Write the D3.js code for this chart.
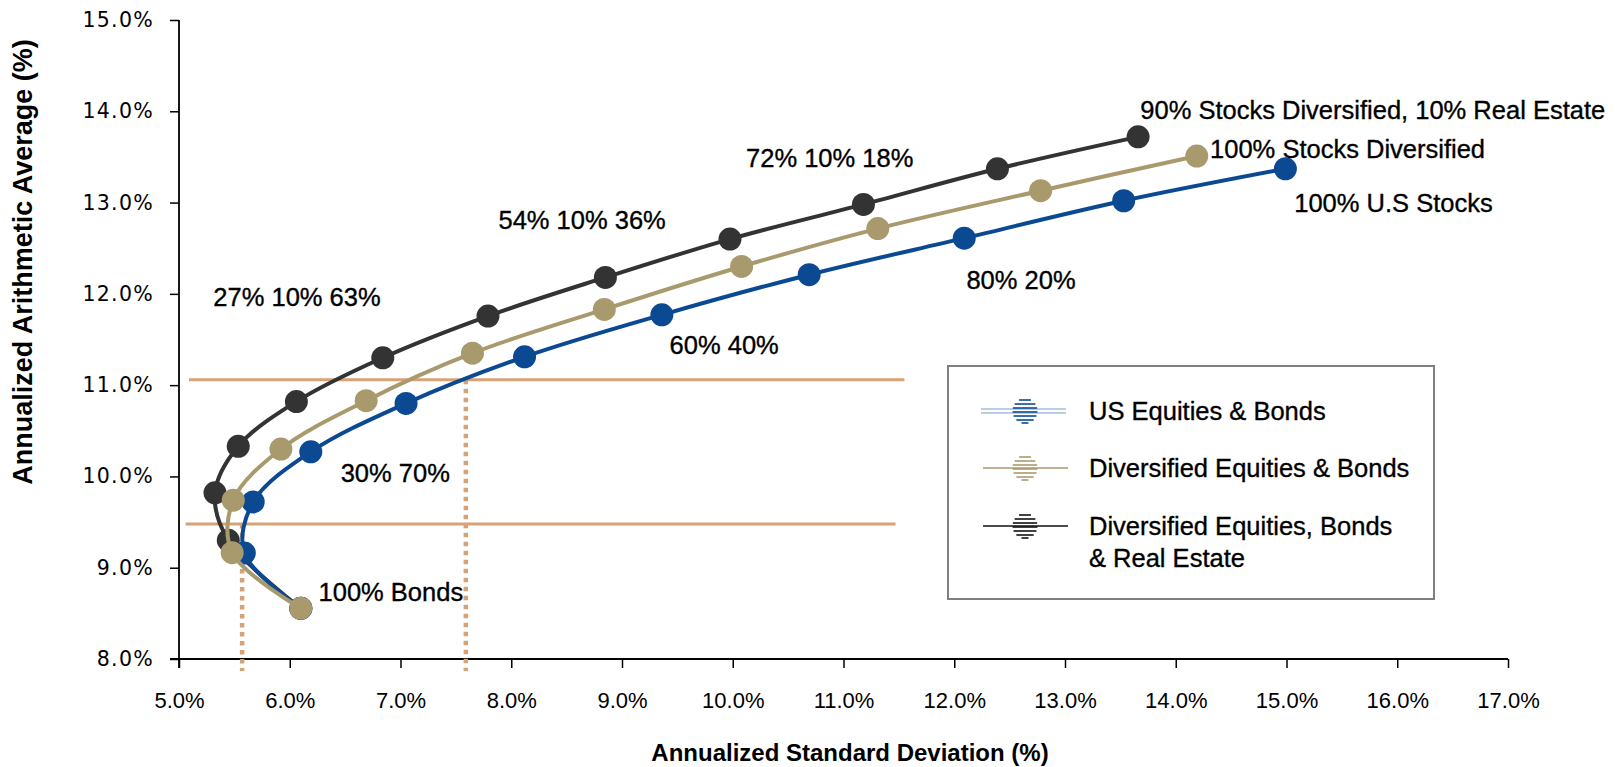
<!DOCTYPE html>
<html>
<head>
<meta charset="utf-8">
<script src="https://cdn.jsdelivr.net/npm/d3@7"></script>
<style>
  html, body { margin: 0; padding: 0; background: #fff; }
  svg { display: block; }
  .lbl { font-family: "Liberation Sans", Arial, sans-serif; font-size: 25.5px; fill: #000; stroke: #000; stroke-width: 0.35px; }
  .ytick text { font-family: "DejaVu Sans", Verdana, sans-serif; font-size: 20.5px; letter-spacing: 1.3px; }
  .xtick text { font-family: "Liberation Sans Narrow", "Liberation Sans", sans-serif; font-size: 22px; }
  .title { font-family: "Liberation Sans Narrow", "Liberation Sans", sans-serif; font-size: 24px; font-weight: bold; }
</style>
</head>
<body>
<svg id="chart" width="1615" height="767"></svg>
<script>
// Risk / return of portfolio mixes (annualized std. dev. %, arithmetic average %)
const usStd   = [6.1, 5.59, 5.67, 6.19, 7.05, 8.12, 9.36, 10.69, 12.09, 13.53, 14.99];
const usRet   = [8.555, 9.16, 9.72, 10.27, 10.80, 11.31, 11.77, 12.21, 12.61, 13.02, 13.37];

const divStd  = [6.1, 5.48, 5.49, 5.92, 6.69, 7.65, 8.84, 10.08, 11.31, 12.78, 14.19];
const divRet  = [8.555, 9.165, 9.74, 10.30, 10.83, 11.35, 11.83, 12.30, 12.715, 13.13, 13.51];

const reStd   = [6.1, 5.445, 5.325, 5.535, 6.06, 6.84, 7.79, 8.85, 9.975, 11.18, 12.39, 13.66];
const reRet   = [8.555, 9.30, 9.82, 10.33, 10.82, 11.30, 11.757, 12.18, 12.60, 12.98, 13.37, 13.72];

const seriesNames = ["US Equities & Bonds", "Diversified Equities & Bonds", "Diversified Equities, Bonds\n& Real Estate"];

const xTicks = [5, 6, 7, 8, 9, 10, 11, 12, 13, 14, 15, 16, 17];
const yTicks = [8, 9, 10, 11, 12, 13, 14, 15];

// Reference levels of return and the risk needed to reach them
const refReturns = [11.06, 9.48];
const refStdStart = [5.09, 5.06];
const refStdEnd = [11.55, 11.47];
const refRisk = [7.59, 5.57];

// Allocation annotations: text, std. dev., return
const noteText = ["27% 10% 63%", "54% 10% 36%", "72% 10% 18%", "90% Stocks Diversified, 10% Real Estate",
                  "100% Stocks Diversified", "100% U.S Stocks", "80% 20%", "60% 40%", "30% 70%", "100% Bonds"];
const noteStd  = [5.31, 7.885, 10.12, 13.68, 14.31, 15.07, 12.11, 9.43, 6.46, 6.26];
const noteRet  = [11.97, 12.81, 13.49, 14.02, 13.585, 13.00, 12.15, 11.44, 10.04, 8.74];

const svg = d3.select("#chart");
const x = d3.scaleLinear().domain([5, 17]).range([179, 1508]);
const y = d3.scaleLinear().domain([8, 15]).range([659, 20]);

const colBlue = "#0b4a92", colTan = "#a99a6e", colDark = "#333333", colRef = "#d6a276";

// Axes
const xAxis = svg.append("g").attr("class", "xtick").attr("transform", `translate(0,${y(8)})`)
  .call(d3.axisBottom(x).tickValues(xTicks).tickFormat(d => d.toFixed(1) + "%").tickSize(9).tickPadding(24));
xAxis.select(".domain").attr("stroke", "#000").attr("stroke-width", 2.2).attr("d", `M${x(5) - 9},0H${x(17)}`);
xAxis.selectAll(".tick line").attr("stroke-width", 1.5);
xAxis.selectAll("text").attr("fill", "#000");

const yAxis = svg.append("g").attr("class", "ytick").attr("transform", `translate(${x(5)},0)`)
  .call(d3.axisLeft(y).tickValues(yTicks).tickFormat(d => d.toFixed(1) + "%").tickSize(9).tickPadding(16));
yAxis.select(".domain").attr("stroke", "#000").attr("stroke-width", 1.8).attr("d", `M0,${y(15)}V${y(8) + 9}`);
yAxis.selectAll(".tick line").attr("stroke-width", 1.5);
yAxis.selectAll("text").attr("fill", "#000");

// Axis titles
svg.append("text").attr("class", "title").attr("x", 850).attr("y", 761).attr("text-anchor", "middle")
  .text("Annualized Standard Deviation (%)");
svg.append("text").attr("class", "title").style("font-size", "27px")
  .attr("transform", `translate(32,${262}) rotate(-90)`)
  .attr("text-anchor", "middle").text("Annualized Arithmetic Average (%)");

// Reference lines
refReturns.forEach((r, i) => {
  svg.append("line").attr("x1", x(refStdStart[i])).attr("x2", x(refStdEnd[i]))
    .attr("y1", y(r)).attr("y2", y(r)).attr("stroke", colRef).attr("stroke-width", 3);
  svg.append("line").attr("x1", x(refRisk[i])).attr("x2", x(refRisk[i]))
    .attr("y1", y(r)).attr("y2", y(8) + 12).attr("stroke", colRef).attr("stroke-width", 4.5)
    .attr("stroke-dasharray", "4.5 4.5");
});

// Frontier curves
const line = d3.line().x(d => x(d[0])).y(d => y(d[1])).curve(d3.curveCatmullRom.alpha(0.5));
const series = [
  { std: reStd, ret: reRet, color: colDark },
  { std: usStd, ret: usRet, color: colBlue },
  { std: divStd, ret: divRet, color: colTan }
];
series.forEach(s => {
  const pts = s.std.map((v, i) => [v, s.ret[i]]);
  svg.append("path").datum(pts).attr("d", line).attr("fill", "none")
    .attr("stroke", s.color).attr("stroke-width", 4);
  svg.append("g").selectAll("circle").data(pts).join("circle")
    .attr("cx", d => x(d[0])).attr("cy", d => y(d[1])).attr("r", 11.5).attr("fill", s.color);
});

// Annotations
svg.append("g").selectAll("text").data(noteText).join("text")
  .attr("class", "lbl")
  .attr("x", (d, i) => x(noteStd[i])).attr("y", (d, i) => y(noteRet[i])).attr("dy", "0.36em")
  .text(d => d);

// Legend
const lg = svg.append("g");
lg.append("rect").attr("x", 948).attr("y", 366).attr("width", 486).attr("height", 233)
  .attr("fill", "#fff").attr("stroke", "#7f7f7f").attr("stroke-width", 2);
const legendRows = [
  { y: 411, color: colBlue, lineColor: "#7d9bc8", doubled: true },
  { y: 468, color: colTan, lineColor: colTan, doubled: false },
  { y: 526, color: "#111", lineColor: "#111", doubled: false }
];
legendRows.forEach((r, i) => {
  const g = lg.append("g");
  if (r.doubled) {
    [-2, 2].forEach(o => g.append("line").attr("x1", 981).attr("x2", 1066)
      .attr("y1", r.y + o).attr("y2", r.y + o).attr("stroke", r.lineColor).attr("stroke-width", 1.2));
  } else {
    g.append("line").attr("x1", 983).attr("x2", 1068).attr("y1", r.y).attr("y2", r.y)
      .attr("stroke", r.lineColor).attr("stroke-width", 1.5);
  }
  const cx = 1025, rad = 12.5;
  [-11, -7, -3, 1, 5, 9, 12].forEach(dy => {
    const hw = Math.sqrt(Math.max(rad * rad - dy * dy, 4));
    g.append("line").attr("x1", cx - hw).attr("x2", cx + hw).attr("y1", r.y + dy).attr("y2", r.y + dy)
      .attr("stroke", r.color).attr("stroke-width", 1.6);
  });
  const lines = seriesNames[i].split("\n");
  const t = lg.append("text").attr("class", "lbl").attr("x", 1089).attr("y", r.y);
  lines.forEach((ln, k) => t.append("tspan").attr("x", 1089).attr("dy", k === 0 ? "0.36em" : "32px").text(ln));
});
</script>
</body>
</html>
